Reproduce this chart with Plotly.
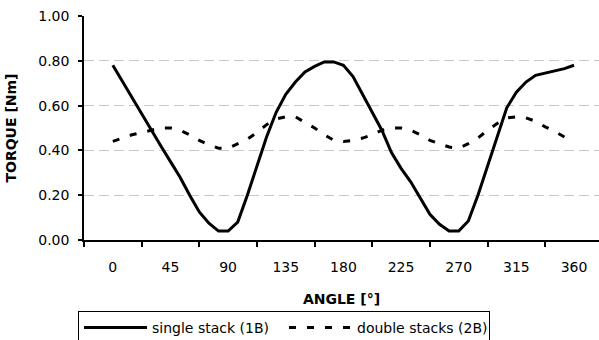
import plotly.graph_objects as go

angles = [i * 7.5 for i in range(49)]

single_stack = [0.78, 0.707, 0.635, 0.565, 0.49, 0.42, 0.35, 0.28, 0.20, 0.125,
                0.075, 0.04, 0.04, 0.08, 0.20, 0.33, 0.46, 0.57, 0.65, 0.705,
                0.75, 0.775, 0.795, 0.795, 0.78, 0.73, 0.65, 0.57, 0.49, 0.39,
                0.32, 0.26, 0.185, 0.115, 0.07, 0.04, 0.04, 0.085, 0.20, 0.33,
                0.47, 0.59, 0.66, 0.705, 0.735, 0.745, 0.755, 0.765, 0.78]

double_stacks = [0.44, 0.455, 0.47, 0.48, 0.49, 0.50, 0.50, 0.49, 0.47, 0.445,
                 0.425, 0.41, 0.41, 0.43, 0.45, 0.48, 0.515, 0.54, 0.55, 0.55,
                 0.525, 0.50, 0.47, 0.445, 0.44, 0.445, 0.455, 0.47, 0.49, 0.50,
                 0.50, 0.49, 0.47, 0.445, 0.43, 0.415, 0.41, 0.43, 0.455, 0.49,
                 0.52, 0.545, 0.55, 0.545, 0.53, 0.505, 0.485, 0.46, 0.44]

x_ticks = [0, 45, 90, 135, 180, 225, 270, 315, 360]
x_tick_marks = [-22.5, 22.5, 67.5, 112.5, 157.5, 202.5, 247.5, 292.5, 337.5]
y_ticks = [0.0, 0.2, 0.4, 0.6, 0.8, 1.0]
y_grid = [0.2, 0.4, 0.6, 0.8]

font_family = "DejaVu Sans, Liberation Sans, Arial, sans-serif"

fig = go.Figure()
fig.add_trace(go.Scatter(x=angles, y=single_stack, mode="lines",
                         name="single stack (1B)",
                         line=dict(color="black", width=3)))
fig.add_trace(go.Scatter(x=angles, y=double_stacks, mode="lines",
                         name="double stacks (2B)",
                         line=dict(color="black", width=3, dash="7px,11px")))

fig.update_layout(
    width=599, height=340,
    margin=dict(l=84, r=0, t=16, b=100),
    paper_bgcolor="white", plot_bgcolor="white",
    font=dict(family=font_family, size=14, color="black"),
    showlegend=True,
    legend=dict(orientation="h", xref="container", yref="container",
                x=78 / 599, xanchor="left", y=1 - 311 / 340, yanchor="top",
                bordercolor="black", borderwidth=1, bgcolor="white",
                font=dict(size=14), itemwidth=63,
                entrywidth=127, entrywidthmode="pixels",
                tracegroupgap=0),
)

fig.update_xaxes(
    range=[-22.5, 379.5],
    tickmode="array", tickvals=x_ticks, ticktext=[str(v) for v in x_ticks],
    ticks="", showgrid=False, zeroline=False,
    showline=True, linecolor="black", linewidth=1.5,
    ticklabelstandoff=13,
    minor=dict(tickmode="array", tickvals=x_tick_marks, ticks="outside",
               ticklen=5, tickwidth=1.5, tickcolor="black", showgrid=False),
    title=dict(text="<b>ANGLE [°]</b>", font=dict(size=14), standoff=21),
    automargin=False,
)

fig.update_yaxes(
    range=[0, 1.0],
    tickmode="array", tickvals=y_ticks, ticktext=[f"{v:.2f}" for v in y_ticks],
    ticks="outside", ticklen=4, tickwidth=1.5, tickcolor="black",
    showgrid=False, zeroline=False,
    showline=True, linecolor="black", linewidth=1.5,
    ticklabelstandoff=6,
    minor=dict(tickmode="array", tickvals=y_grid, ticks="", showgrid=True,
               gridcolor="#c8c8c8", griddash="10px,5px", gridwidth=1),
    title=dict(text="<b>TORQUE [Nm]</b>", font=dict(size=14), standoff=18),
    automargin=False,
)

fig.write_html("out.html", config={"displayModeBar": False},
               post_script="document.body.style.margin='0px';")
